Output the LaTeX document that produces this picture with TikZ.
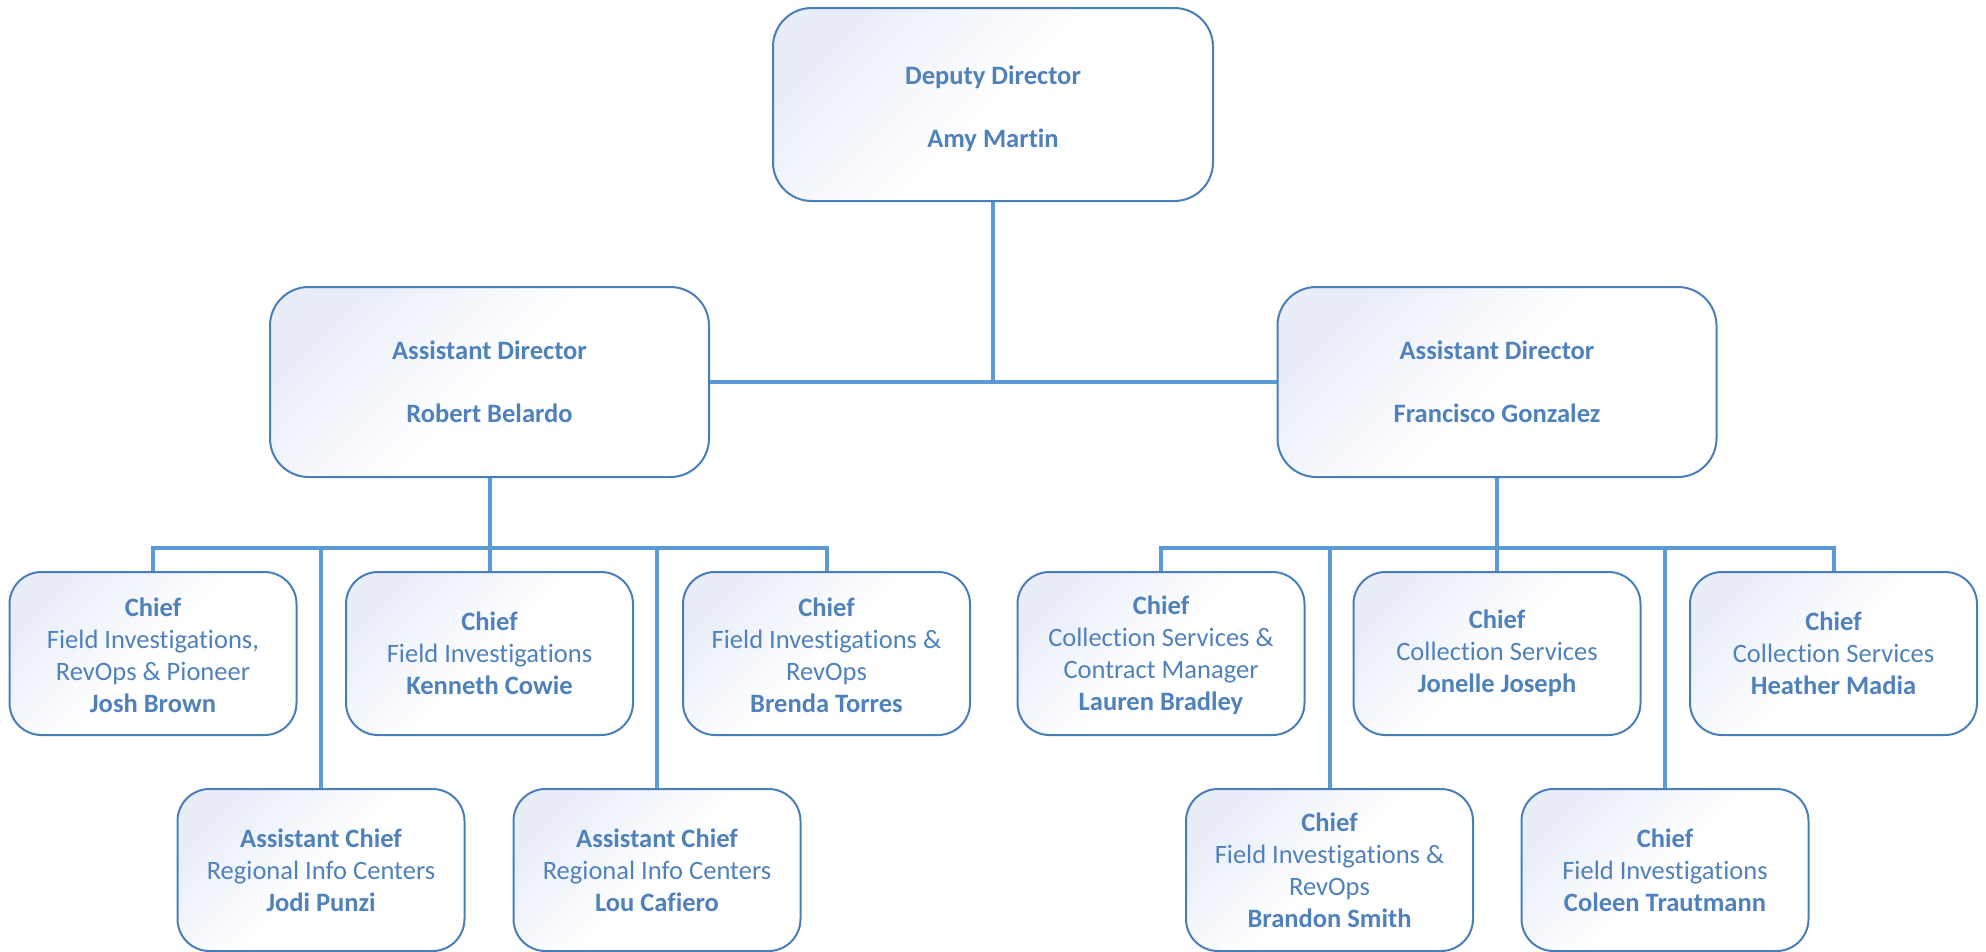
\documentclass[tikz,border=0pt]{standalone}
\usepackage{fontspec}
\setmainfont{Carlito}[Ligatures=NoCommon]
\definecolor{txtblue}{RGB}{79,129,189}
\definecolor{edgeblue}{RGB}{74,126,187}
\definecolor{lineblue}{RGB}{91,155,213}
\definecolor{boxshade}{RGB}{232,237,248}
\tikzset{
  orgbox/.style={draw=edgeblue, line width=1.5pt, rounded corners=24pt,
    shading=axis, top color=boxshade, bottom color=white, middle color=white, shading angle=45,
    align=center, text=txtblue, inner sep=0pt,
    font=\fontsize{19.9}{24}\selectfont},
  topbox/.style={orgbox, minimum width=330pt, minimum height=144.75pt, rounded corners=29pt},
  adbox/.style={orgbox, minimum width=329.25pt, minimum height=142.5pt, rounded corners=29pt},
  rowbox/.style={orgbox, minimum width=215.25pt, minimum height=122.25pt},
  lowbox/.style={orgbox, minimum width=215.25pt, minimum height=121.5pt},
  conn/.style={draw=lineblue, line width=3pt}
}
\begin{document}
\begin{tikzpicture}[x=0.75pt,y=-0.75pt]
\useasboundingbox (0,0) rectangle (1986,951);
\coordinate (busL) at (489.5,548);
\coordinate (busR) at (1497,548);
% boxes
\node[topbox] (dep) at (993,104.5) {\rule{0pt}{20pt}\textbf{Deputy Director}\\[23pt]\textbf{Amy Martin}};
\node[adbox] (adl) at (489.5,382) {\textbf{Assistant Director}\\[23pt]\textbf{Robert Belardo}};
\node[adbox] (adr) at (1497,382) {\textbf{Assistant Director}\\[23pt]\textbf{Francisco Gonzalez}};

\node[rowbox] (josh) at (153,653.5) {\rule{0pt}{17pt}\textbf{Chief}\\Field Investigations,\\RevOps \& Pioneer\\\textbf{Josh Brown}};
\node[rowbox] (ken) at (489.5,653.5) {\textbf{Chief}\\Field Investigations\\\textbf{Kenneth Cowie}};
\node[rowbox] (bre) at (826.5,653.5) {\rule{0pt}{17pt}\textbf{Chief}\\Field Investigations \&\\RevOps\\\textbf{Brenda Torres}};
\node[rowbox] (lau) at (1161,653.5) {\rule{0pt}{17pt}\textbf{Chief}\\Collection Services \&\\Contract Manager\\\textbf{Lauren Bradley}};
\node[rowbox] (jon) at (1497,653.5) {\textbf{Chief}\\Collection Services\\\textbf{Jonelle Joseph}};
\node[rowbox] (hea) at (1833.5,653.5) {\textbf{Chief}\\Collection Services\\\textbf{Heather Madia}};

\node[lowbox] (jodi) at (321,870) {\textbf{Assistant Chief}\\Regional Info Centers\\\textbf{Jodi Punzi}};
\node[lowbox] (lou) at (657,870) {\textbf{Assistant Chief}\\Regional Info Centers\\\textbf{Lou Cafiero}};
\node[lowbox] (bra) at (1329.5,870) {\textbf{Chief}\\Field Investigations \&\\RevOps\\\textbf{Brandon Smith}};
\node[lowbox] (col) at (1665,870) {\textbf{Chief}\\Field Investigations\\\textbf{Coleen Trautmann}};

% connectors
\draw[conn] (dep.south) -- (dep.south |- adl.east);
\draw[conn] (adl.east) -- (adr.west);

\draw[conn] (adl.south) -- (ken.north);
\draw[conn] (josh.north) -- (josh.north |- busL) -- (bre.north |- busL) -- (bre.north);
\draw[conn] (jodi.north) -- (jodi.north |- busL);
\draw[conn] (lou.north) -- (lou.north |- busL);

\draw[conn] (adr.south) -- (jon.north);
\draw[conn] (lau.north) -- (lau.north |- busR) -- (hea.north |- busR) -- (hea.north);
\draw[conn] (bra.north) -- (bra.north |- busR);
\draw[conn] (col.north) -- (col.north |- busR);
\end{tikzpicture}
\end{document}
